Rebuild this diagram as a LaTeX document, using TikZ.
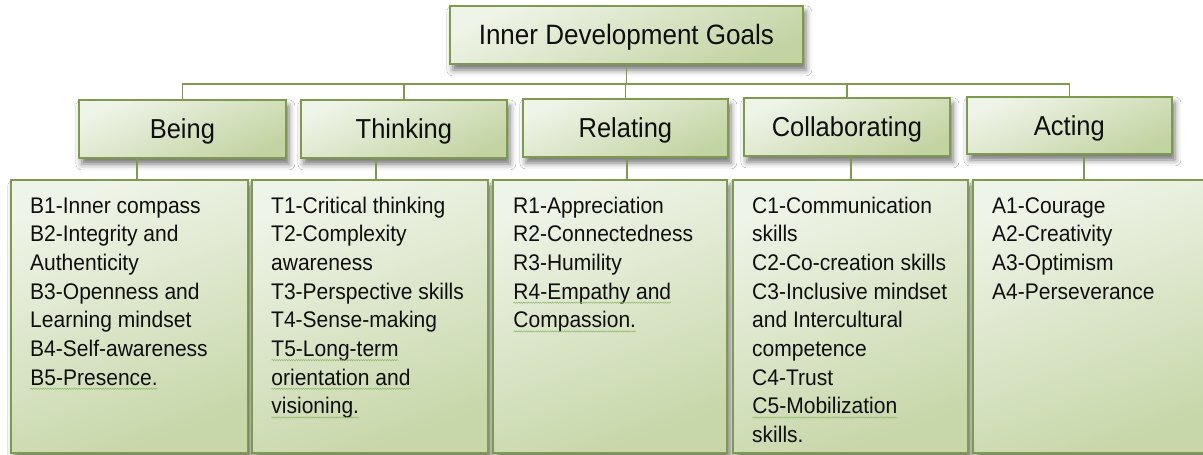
\documentclass[tikz,border=0pt]{standalone}
\usepackage{fontspec}
\setmainfont{Liberation Sans}[FakeStretch=0.93]
\usetikzlibrary{shadows.blur,decorations.pathmorphing}

\definecolor{idgline}{HTML}{7D9A4E}
\definecolor{idglight}{HTML}{EFF4E8}
\definecolor{idgdark}{HTML}{C3D4A3}
\definecolor{idgtext}{HTML}{0E0E0E}
\definecolor{idgwave}{HTML}{8DB86A}

% proofing-style wavy underline below a line of text
\newcommand\wavy[1]{\tikz[baseline=(w.base)]{%
  \node[inner sep=0pt,outer sep=0pt,anchor=base] (w) {#1};%
  \draw[idgwave,line width=0.5pt,decorate,
        decoration={snake,amplitude=0.6pt,segment length=2.4pt}]
    ([yshift=-3.6pt]w.base west) -- ([yshift=-3.6pt]w.base east);}}

\tikzset{
  boxbase/.style={draw=idgline, line width=1.8pt, anchor=north west,
    inner sep=0pt,
    blur shadow={shadow xshift=3pt, shadow yshift=-6pt,
      shadow blur radius=6pt, shadow opacity=55}},
  titlebox/.style={boxbase, top color=idglight, bottom color=idgdark,
    shading angle=25, text=idgtext,
    font=\fontsize{28}{32}\selectfont, text height=20pt, text depth=0pt},
  headbox/.style={boxbase, top color=idglight, bottom color=idgdark,
    shading angle=25, text=idgtext, minimum height=58pt,
    font=\fontsize{27.4}{32}\selectfont, text height=19.6pt, text depth=0pt},
  listbox/.style={boxbase, top color=idglight, bottom color=idgdark!92!idglight,
    shading angle=20, minimum height=273pt},
  listtext/.style={anchor=base west, inner sep=0pt, text=idgtext,
    font=\fontsize{22.6}{28.7}\selectfont},
  link/.style={draw=idgline, line width=1.8pt}
}

\begin{document}
\begin{tikzpicture}[x=1pt,y=-1pt]
\useasboundingbox (0,0) rectangle (1203,455);
\fill[white] (0,0) rectangle (1203,455);
\clip (0,0) rectangle (1203,455);

% root
\node[titlebox, minimum width=353pt, minimum height=58pt] (goal) at (449,5)
  {Inner Development Goals};

% five dimensions
\node[headbox, minimum width=207pt] (being) at (78,99) {Being};
\node[headbox, minimum width=206pt] (thinking) at (300,99) {Thinking};
\node[headbox, minimum width=205pt] (relating) at (522,98) {Relating};
\node[headbox, minimum width=206pt] (collab) at (743,97) {Collaborating};
\node[headbox, minimum width=205pt, minimum height=57pt] (acting) at (966,96) {Acting};

% skill lists
\node[listbox, minimum width=237pt] (blist) at (10,179) {};
\node[listbox, minimum width=236pt] (tlist) at (251,179) {};
\node[listbox, minimum width=234pt] (rlist) at (492,179) {};
\node[listbox, minimum width=235pt] (clist) at (732,179) {};
\node[listbox, minimum width=250pt] (alist) at (972,179) {};

\node[listtext] (btext) at (30,213) {\vtop{%
  \hbox{B1-Inner compass}\hbox{B2-Integrity and}\hbox{Authenticity}%
  \hbox{B3-Openness and}\hbox{Learning mindset}\hbox{B4-Self-awareness}%
  \hbox{\wavy{B5-Presence.}}}};
\node[listtext] (ttext) at (271,213) {\vtop{%
  \hbox{T1-Critical thinking}\hbox{T2-Complexity}\hbox{awareness}%
  \hbox{T3-Perspective skills}\hbox{T4-Sense-making}%
  \hbox{\wavy{T5-Long-term}}\hbox{\wavy{orientation and\ }}%
  \hbox{\wavy{visioning.}}}};
\node[listtext] (rtext) at (513,213) {\vtop{%
  \hbox{R1-Appreciation}\hbox{R2-Connectedness}\hbox{R3-Humility}%
  \hbox{\wavy{R4-Empathy and\ }}\hbox{\wavy{Compassion.}}}};
\node[listtext] (ctext) at (752,213) {\vtop{%
  \hbox{C1-Communication}\hbox{skills}\hbox{C2-Co-creation skills}%
  \hbox{C3-Inclusive mindset}\hbox{and Intercultural}\hbox{competence}%
  \hbox{C4-Trust}\hbox{\wavy{C5-Mobilization\ }}\hbox{skills.}}};
\node[listtext] (atext) at (992,213) {\vtop{%
  \hbox{A1-Courage}\hbox{A2-Creativity}\hbox{A3-Optimism}%
  \hbox{A4-Perseverance}}};

% root to dimensions
\foreach \h in {being,thinking,relating,collab,acting}
  \draw[link] (goal.south) -- ++(0,19) -| (\h.north);

% dimensions to their lists
\draw[link] ([xshift=-45.5pt]being.south) -- ([xshift=-45.5pt]being.south |- blist.north);
\draw[link] ([xshift=-28pt]thinking.south) -- ([xshift=-28pt]thinking.south |- tlist.north);
\draw[link] ([xshift=1.5pt]relating.south) -- ([xshift=1.5pt]relating.south |- rlist.north);
\draw[link] ([xshift=4pt]collab.south) -- ([xshift=4pt]collab.south |- clist.north);
\draw[link] ([xshift=14.5pt]acting.south) -- ([xshift=14.5pt]acting.south |- alist.north);
\end{tikzpicture}
\end{document}
